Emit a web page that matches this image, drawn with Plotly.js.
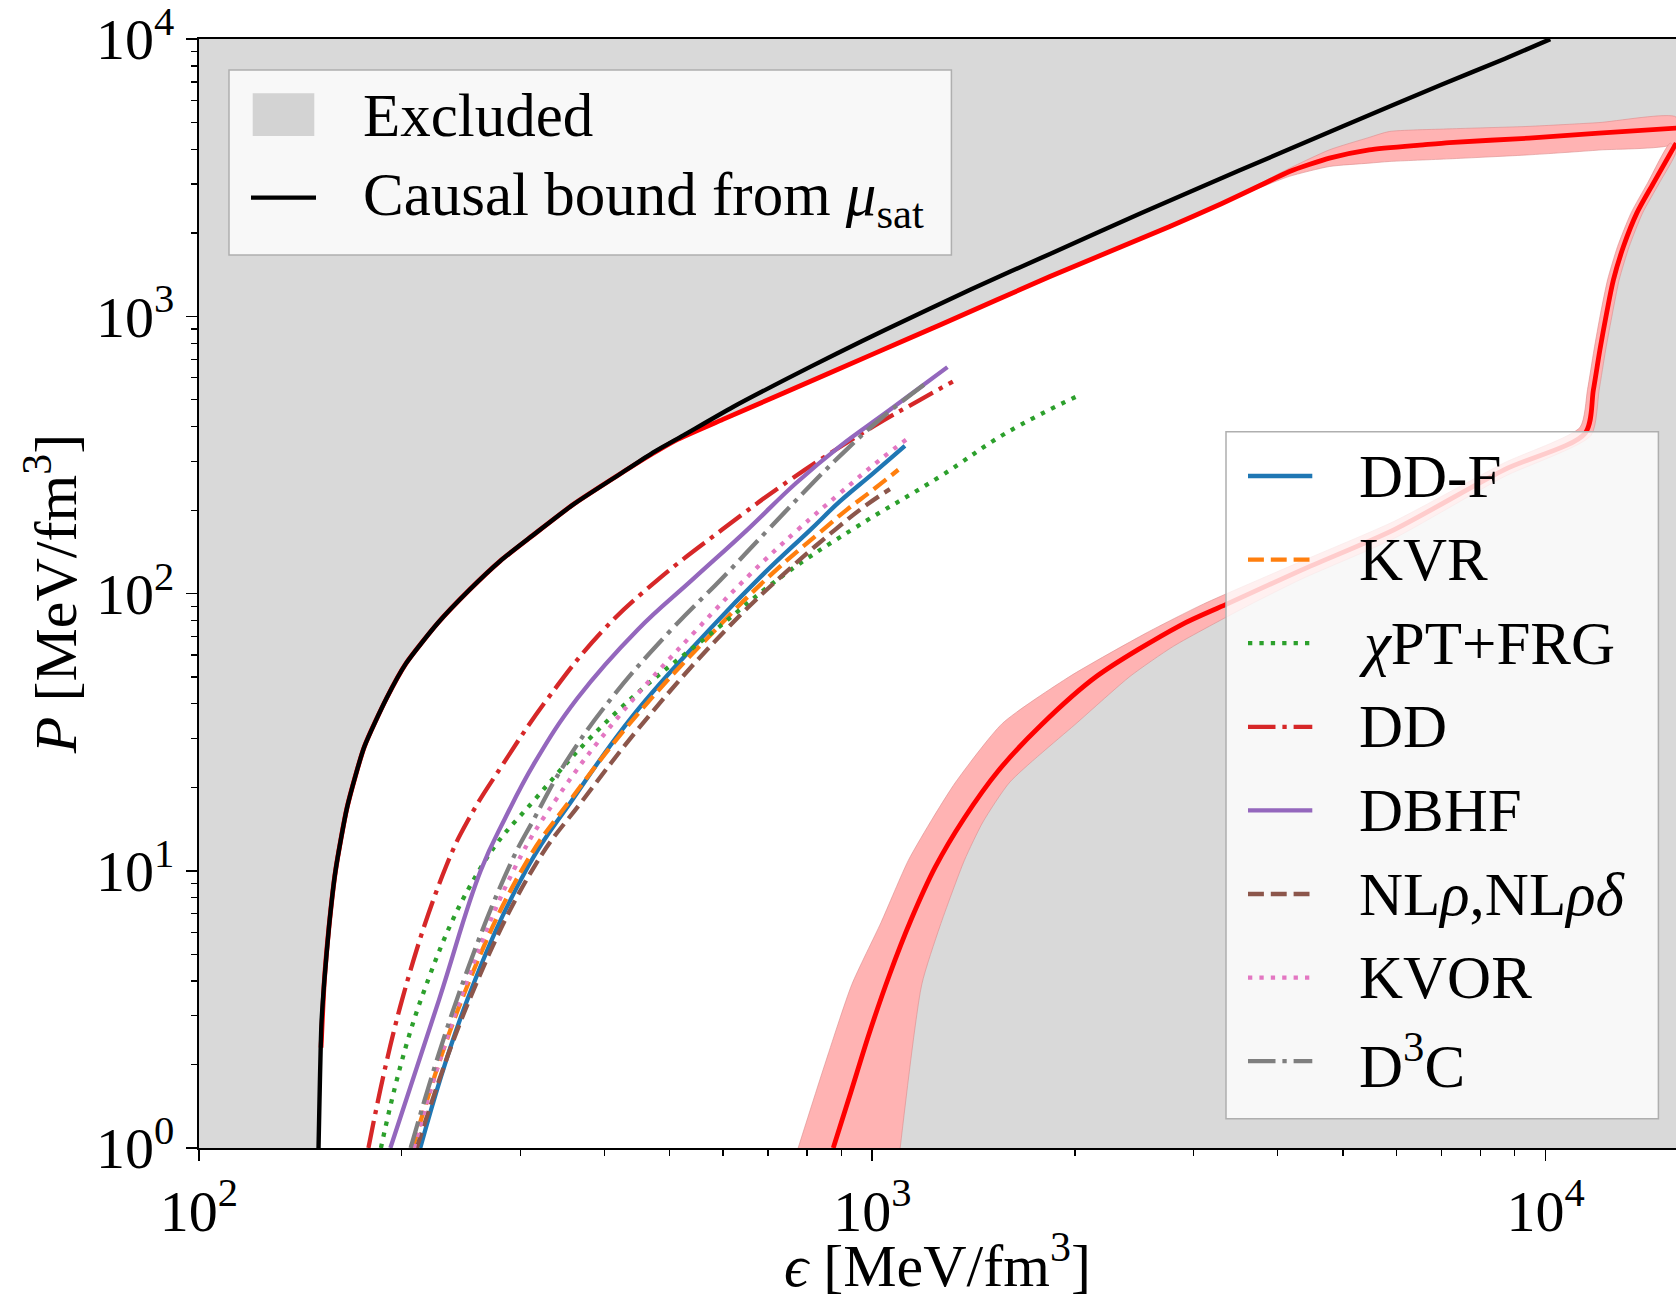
<!DOCTYPE html>
<html>
<head>
<meta charset="utf-8">
<script src="https://cdn.plot.ly/plotly-3.0.1.min.js"></script>
<style>html,body{margin:0;padding:0;background:#fff;}</style>
</head>
<body>
<div id="chart" style="width:1676px;height:1299px;"></div>
<script>
// ---------------- data ----------------
// Causal bound from mu_sat (black)
const causalEps = [150.5, 152.0, 153.5, 156.0, 159.5, 166.0, 176.0, 190.0, 203.0, 226.0, 252.0, 280.0, 313.0, 360.0, 417.0, 470.0, 524.0, 620.0, 741.0, 886.0, 1046.0, 1400.0, 1836.0, 2500.0, 3500.0, 5000.0, 7000.0, 8700.0, 10160.0];
const causalP   = [1.0, 2.8, 4.0, 6.3, 10.0, 17.0, 28.0, 42.0, 56.0, 78.0, 103.0, 131.0, 162.0, 210.0, 265.0, 320.0, 372.0, 470.0, 590.0, 735.0, 894.0, 1250.0, 1680.0, 2350.0, 3350.0, 4850.0, 6850.0, 8500.0, 10000.0];

// Upper red boundary of the allowed region
const upperEps = [151.8, 153.5, 156.0, 159.5, 166.0, 176.0, 190.0, 203.0, 226.0, 252.0, 280.0, 313.0, 360.0, 417.0, 470.0, 514.0, 600.0, 740.0, 1000.0, 1265.0, 1836.0, 2766.0, 3300.0, 3800.0, 4165.0, 4775.0, 5470.0, 6577.0, 7194.0, 9452.0, 12000.0, 15630.0];
const upperP   = [2.3, 4.0, 6.3, 10.0, 17.0, 28.0, 42.0, 56.0, 78.0, 103.0, 131.0, 162.0, 210.0, 265.0, 318.0, 360.0, 425.0, 530.0, 729.0, 935.0, 1392.0, 2109.0, 2548.0, 2996.0, 3331.0, 3720.0, 3988.0, 4157.0, 4236.0, 4395.0, 4580.0, 4776.0];

// Uncertainty band around the upper boundary
const upperBandEps = [3300.0, 3800.0, 4165.0, 4775.0, 5470.0, 5857.0, 7194.0, 9452.0, 12000.0, 15630.0];
const upperBandHi  = [2548.0, 3050.0, 3420.0, 3988.0, 4421.0, 4642.0, 4746.0, 4846.0, 5000.0, 5232.0];
const upperBandLo  = [2548.0, 2940.0, 3200.0, 3472.0, 3570.0, 3619.0, 3700.0, 3825.0, 3980.0, 4217.0];

// Right red boundary of the allowed region
const rightEps = [875.0, 930.0, 990.0, 1060.0, 1140.0, 1240.0, 1370.0, 1540.0, 1780.0, 2154.0, 2864.0, 3360.0, 4346.0, 5951.0, 8675.0, 11447.0, 11775.0, 12040.0, 12320.0, 12610.0, 13050.0, 13660.0, 14460.0, 15630.0];
const rightP   = [1.0, 1.6, 2.6, 4.2, 6.6, 10.3, 15.5, 23.0, 33.5, 50.3, 76.7, 91.6, 121.8, 169.8, 279.6, 379.0, 543.0, 757.0, 1027.0, 1354.0, 1786.0, 2357.0, 3024.0, 4217.0];

// Uncertainty band around the right boundary (allowed side / excluded side)
const rightBandInEps  = [776.0, 850.0, 932.0, 1030.0, 1131.0, 1230.0, 1330.0, 1560.0, 1966.0, 2550.0, 3101.0, 4346.0, 5951.0, 8675.0, 11250.0, 11540.0, 11800.0, 12070.0, 12360.0, 12790.0, 13390.0, 14170.0, 15320.0];
const rightBandInP    = [1.0, 2.0, 3.88, 6.5, 10.9, 15.5, 20.9, 34.0, 50.3, 72.0, 91.6, 131.0, 182.0, 296.0, 398.0, 543.0, 757.0, 1027.0, 1354.0, 1786.0, 2357.0, 3024.0, 4217.0];
const rightBandOutEps = [1100.0, 1184.0, 1260.0, 1370.0, 1460.0, 1601.0, 2020.0, 2415.0, 2799.0, 3600.0, 4346.0, 5951.0, 8675.0, 11680.0, 12010.0, 12280.0, 12570.0, 12860.0, 13310.0, 13930.0, 14750.0, 15630.0];
const rightBandOutP   = [1.0, 3.88, 6.3, 10.9, 15.0, 20.9, 34.4, 50.3, 64.5, 90.0, 113.0, 158.0, 264.0, 372.0, 543.0, 757.0, 1027.0, 1354.0, 1786.0, 2357.0, 3024.0, 3950.0];

// Nuclear-model equations of state
const modelNames = ['DD-F', 'KVR', '<i>χ</i>PT+FRG', 'DD', 'DBHF', 'NL<i>ρ</i>,NL<i>ρδ</i>', 'KVOR', 'D<sup>3</sup>C'];
const ddfEps  = [213.1, 250.4, 308.4, 358.6, 440.0, 572.8, 690.0, 809.0, 895.0, 1003.7, 1118.0];
const ddfP    = [1.0, 3.43, 10.4, 18.04, 36.0, 74.1, 118.0, 169.8, 215.0, 272.0, 341.0];
const kvrEps  = [207.6, 245.7, 304.0, 356.3, 445.0, 585.0, 710.0, 844.5, 916.0, 995.0, 1093.0];
const kvrP    = [1.0, 3.43, 10.4, 18.04, 36.0, 74.1, 118.0, 169.8, 200.5, 233.5, 279.6];
const chiEps  = [186.3, 213.6, 263.0, 315.1, 420.0, 585.3, 740.0, 940.0, 1261.0, 1582.0, 2034.0];
const chiP    = [1.0, 3.43, 10.4, 18.04, 38.0, 74.1, 117.0, 172.0, 264.5, 380.0, 521.0];
const ddEps   = [178.5, 200.3, 232.9, 252.0, 282.0, 330.0, 399.0, 480.0, 597.8, 760.0, 1003.7, 1177.5, 1317.0];
const ddP     = [1.0, 3.43, 10.4, 15.5, 24.0, 42.0, 74.1, 112.0, 169.8, 260.0, 400.6, 500.0, 582.0];
const dbhfEps = [192.4, 227.3, 262.0, 285.0, 315.0, 365.0, 448.3, 540.0, 652.0, 770.0, 894.0, 1062.0, 1293.0];
const dbhfP   = [1.0, 3.43, 10.0, 15.5, 24.5, 42.0, 74.1, 112.0, 169.8, 250.0, 339.0, 460.0, 656.0];
const nlEps   = [210.6, 252.2, 315.1, 372.0, 465.0, 606.5, 740.0, 880.0, 981.0, 1062.0];
const nlP     = [1.0, 3.43, 10.4, 18.04, 36.0, 74.1, 118.0, 169.8, 209.0, 238.0];
const kvorEps = [208.5, 244.3, 295.4, 338.8, 420.0, 548.6, 660.0, 774.8, 895.0, 1027.0, 1131.0];
const kvorP   = [1.0, 3.43, 10.4, 18.04, 36.0, 74.1, 118.0, 169.8, 230.0, 304.0, 364.0];
const d3cEps  = [206.2, 241.5, 289.1, 315.0, 350.0, 410.0, 503.0, 595.0, 700.0, 815.0, 915.0, 1038.5, 1211.0];
const d3cP    = [1.0, 3.43, 10.4, 15.5, 24.5, 42.0, 74.1, 112.0, 169.8, 250.0, 330.0, 435.3, 582.0];

// Tick labels
const xTickVals = [100, 1000, 10000];
const xTickText = ['10<sup>2</sup>', '10<sup>3</sup>', '10<sup>4</sup>'];
const yTickVals = [1, 10, 100, 1000, 10000];
const yTickText = ['10<sup>0</sup>', '10<sup>1</sup>', '10<sup>2</sup>', '10<sup>3</sup>', '10<sup>4</sup>'];
const xMinorVals = [200, 300, 400, 500, 600, 700, 800, 900, 2000, 3000, 4000, 5000, 6000, 7000, 8000, 9000];
const yMinorVals = [2, 3, 4, 5, 6, 7, 8, 9, 20, 30, 40, 50, 60, 70, 80, 90, 200, 300, 400, 500, 600, 700, 800, 900, 2000, 3000, 4000, 5000, 6000, 7000, 8000, 9000];

// ---------------- styles ----------------
const LW = 4.3;
const DASHED = (LW * 3.7).toFixed(1) + 'px,' + (LW * 1.6).toFixed(1) + 'px';
const DASHDOT = (LW * 6.4).toFixed(1) + 'px,' + (LW * 1.6).toFixed(1) + 'px,' + LW.toFixed(1) + 'px,' + (LW * 1.6).toFixed(1) + 'px';
const DOTTED = LW.toFixed(1) + 'px,' + (LW * 1.65).toFixed(1) + 'px';

const models = [
  {x: ddfEps,  y: ddfP,  color: '#1f77b4', dash: 'solid'},
  {x: kvrEps,  y: kvrP,  color: '#ff7f0e', dash: DASHED},
  {x: chiEps,  y: chiP,  color: '#2ca02c', dash: DOTTED},
  {x: ddEps,   y: ddP,   color: '#d62728', dash: DASHDOT},
  {x: dbhfEps, y: dbhfP, color: '#9467bd', dash: 'solid'},
  {x: nlEps,   y: nlP,   color: '#8c564b', dash: DASHED},
  {x: kvorEps, y: kvorP, color: '#e377c2', dash: DOTTED},
  {x: d3cEps,  y: d3cP,  color: '#7f7f7f', dash: DASHDOT}
];

// ---------------- traces ----------------
const traces = [];

// Allowed (white) region
const splitEps = 514.0;
const allowX = [], allowY = [];
causalEps.forEach((e, i) => { if (e < splitEps) { allowX.push(e); allowY.push(causalP[i]); } });
upperEps.forEach((e, i) => { if (e >= splitEps) { allowX.push(e); allowY.push(upperP[i]); } });
for (let i = rightEps.length - 1; i >= 0; i--) { allowX.push(rightEps[i]); allowY.push(rightP[i]); }
traces.push({x: allowX, y: allowY, mode: 'lines', fill: 'toself', fillcolor: '#ffffff',
  line: {width: 0, color: 'rgba(0,0,0,0)', shape: 'spline', smoothing: 0.6}, hoverinfo: 'skip', showlegend: false});

// Bands
traces.push({x: upperBandEps.concat(upperBandEps.slice().reverse()),
  y: upperBandHi.concat(upperBandLo.slice().reverse()),
  mode: 'lines', fill: 'toself', fillcolor: '#ffb3b3',
  line: {width: 1, color: 'rgba(220,140,140,0.6)', shape: 'spline', smoothing: 0.6}, hoverinfo: 'skip', showlegend: false});
traces.push({x: rightBandInEps.concat(rightBandOutEps.slice().reverse()),
  y: rightBandInP.concat(rightBandOutP.slice().reverse()),
  mode: 'lines', fill: 'toself', fillcolor: '#ffb3b3',
  line: {width: 1, color: 'rgba(220,140,140,0.6)', shape: 'spline', smoothing: 0.6}, hoverinfo: 'skip', showlegend: false});

// Model curves
models.forEach((m, i) => {
  traces.push({x: m.x, y: m.y, mode: 'lines', name: modelNames[i],
    line: {color: m.color, width: LW, dash: m.dash, shape: 'spline', smoothing: 1.2}, showlegend: false});
});

// Red boundaries
traces.push({x: upperEps, y: upperP, mode: 'lines', line: {color: '#ff0000', width: 4.8, shape: 'spline', smoothing: 0.6}, showlegend: false});
traces.push({x: rightEps, y: rightP, mode: 'lines', line: {color: '#ff0000', width: 4.8, shape: 'spline', smoothing: 0.8}, showlegend: false});

// Causal bound (black) on top
traces.push({x: causalEps, y: causalP, mode: 'lines', name: 'Causal bound', line: {color: '#000000', width: 4.4, shape: 'spline', smoothing: 0.6}, showlegend: false});

// ---------------- legends (boxes, keys and text) ----------------
const PL = 199, PT = 39, PW = 1477, PH = 1109;
const xp = X => (X - PL) / PW;
const yp = Y => (PT + PH - Y) / PH;

const shapes = [];
const annotations = [];
const FONT = "'Liberation Serif', 'DejaVu Serif', serif";
const LEGFS = 61;

// Legend 1
shapes.push({type: 'rect', xref: 'paper', yref: 'paper', layer: 'above',
  x0: xp(229), x1: xp(951.4), y0: yp(255), y1: yp(70),
  fillcolor: 'rgba(255,255,255,0.8)', line: {color: 'rgba(175,175,175,1)', width: 1.5}});
shapes.push({type: 'rect', xref: 'paper', yref: 'paper', layer: 'above',
  x0: xp(252.7), x1: xp(314.3), y0: yp(136), y1: yp(93.3),
  fillcolor: '#d3d3d3', line: {width: 0}});
shapes.push({type: 'line', xref: 'paper', yref: 'paper', layer: 'above',
  x0: xp(251), x1: xp(316), y0: yp(197.7), y1: yp(197.7),
  line: {color: '#000000', width: LW}});
annotations.push({xref: 'paper', yref: 'paper', x: xp(361), y: yp(116), xanchor: 'left', yanchor: 'middle',
  text: 'Excluded', showarrow: false, font: {family: FONT, size: LEGFS, color: '#000'}});
annotations.push({xref: 'paper', yref: 'paper', x: xp(361), y: yp(199), xanchor: 'left', yanchor: 'middle',
  text: 'Causal bound from <i>μ</i><sub>sat</sub>', showarrow: false, font: {family: FONT, size: LEGFS, color: '#000'}});

// Legend 2
shapes.push({type: 'rect', xref: 'paper', yref: 'paper', layer: 'above',
  x0: xp(1226), x1: xp(1658.4), y0: yp(1118.7), y1: yp(431.7),
  fillcolor: 'rgba(255,255,255,0.8)', line: {color: 'rgba(175,175,175,1)', width: 1.5}});
models.forEach((m, k) => {
  const Y = 476 + 83.6 * k;
  shapes.push({type: 'line', xref: 'paper', yref: 'paper', layer: 'above',
    x0: xp(1248), x1: xp(1312.3), y0: yp(Y), y1: yp(Y),
    line: {color: m.color, width: LW, dash: m.dash}});
  annotations.push({xref: 'paper', yref: 'paper', x: xp(1357), y: yp(Y), xanchor: 'left', yanchor: 'middle',
    text: modelNames[k], showarrow: false, font: {family: FONT, size: LEGFS, color: '#000'}});
});

// ---------------- layout ----------------
const axisCommon = {
  type: 'log', showgrid: false, zeroline: false,
  showline: true, linecolor: '#000', linewidth: 2.2,
  ticks: 'outside', ticklen: 11, tickwidth: 1.6, tickcolor: '#000',
  tickfont: {family: FONT, size: 58, color: '#000'},
  tickmode: 'array', ticklabeloverflow: 'allow'
};

const layout = {
  width: 1676, height: 1299,
  margin: {l: PL, r: 0, t: PT, b: 1299 - PT - PH, pad: 0},
  paper_bgcolor: '#ffffff',
  plot_bgcolor: '#d9d9d9',
  showlegend: false,
  font: {family: FONT, color: '#000'},
  xaxis: Object.assign({}, axisCommon, {
    range: [2, 2 + PW / 673.3],
    tickvals: xTickVals, ticktext: xTickText,
    mirror: true,
    minor: {tickmode: 'array', tickvals: xMinorVals, ticks: 'outside', ticklen: 6, tickwidth: 1.2, tickcolor: '#000', showgrid: false},
    title: {text: '<i>ϵ</i> [MeV/fm<sup>3</sup>]', font: {family: FONT, size: 60, color: '#000'}, standoff: 28}
  }),
  yaxis: Object.assign({}, axisCommon, {
    range: [0, 4.0005],
    tickvals: yTickVals, ticktext: yTickText,
    mirror: false,
    minor: {tickmode: 'array', tickvals: yMinorVals, ticks: 'outside', ticklen: 6, tickwidth: 1.2, tickcolor: '#000', showgrid: false},
    title: {text: '<i>P</i> [MeV/fm<sup>3</sup>]', font: {family: FONT, size: 60, color: '#000'}, standoff: 0}
  }),
  shapes: shapes,
  annotations: annotations
};

Plotly.newPlot('chart', traces, layout, {staticPlot: true, displayModeBar: false});
</script>
</body>
</html>
